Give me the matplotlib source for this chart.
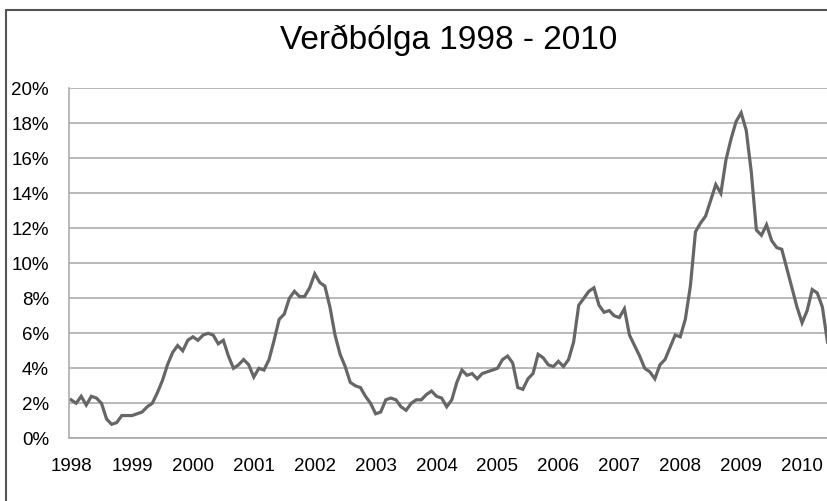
import matplotlib
matplotlib.use('Agg')
import matplotlib.pyplot as plt
from matplotlib.patches import Rectangle
from matplotlib.ticker import FuncFormatter

plt.rcParams['font.family'] = ['Liberation Sans', 'DejaVu Sans']

# tólf mánaða verðbólga (%), janúar - desember
y1998 = [2.2, 2.0, 2.4, 1.9, 2.4, 2.3, 2.0, 1.1, 0.8, 0.9, 1.3, 1.3]
y1999 = [1.3, 1.4, 1.5, 1.8, 2.0, 2.6, 3.3, 4.2, 4.9, 5.3, 5.0, 5.6]
y2000 = [5.8, 5.6, 5.9, 6.0, 5.9, 5.4, 5.6, 4.7, 4.0, 4.2, 4.5, 4.2]
y2001 = [3.5, 4.0, 3.9, 4.5, 5.6, 6.8, 7.1, 8.0, 8.4, 8.1, 8.1, 8.6]
y2002 = [9.4, 8.9, 8.7, 7.5, 5.9, 4.8, 4.1, 3.2, 3.0, 2.9, 2.4, 2.0]
y2003 = [1.4, 1.5, 2.2, 2.3, 2.2, 1.8, 1.6, 2.0, 2.2, 2.2, 2.5, 2.7]
y2004 = [2.4, 2.3, 1.8, 2.2, 3.2, 3.9, 3.6, 3.7, 3.4, 3.7, 3.8, 3.9]
y2005 = [4.0, 4.5, 4.7, 4.3, 2.9, 2.8, 3.4, 3.7, 4.8, 4.6, 4.2, 4.1]
y2006 = [4.4, 4.1, 4.5, 5.5, 7.6, 8.0, 8.4, 8.6, 7.6, 7.2, 7.3, 7.0]
y2007 = [6.9, 7.4, 5.9, 5.3, 4.7, 4.0, 3.8, 3.4, 4.2, 4.5, 5.2, 5.9]
y2008 = [5.8, 6.8, 8.7, 11.8, 12.3, 12.7, 13.6, 14.5, 14.0, 15.9, 17.1, 18.1]
y2009 = [18.6, 17.6, 15.2, 11.9, 11.6, 12.2, 11.3, 10.9, 10.8, 9.7, 8.6, 7.5]
y2010 = [6.6, 7.3, 8.5, 8.3, 7.5, 5.5]

years = ['1998', '1999', '2000', '2001', '2002', '2003', '2004',
         '2005', '2006', '2007', '2008', '2009', '2010']

verdbolga = (y1998 + y1999 + y2000 + y2001 + y2002 + y2003 + y2004
             + y2005 + y2006 + y2007 + y2008 + y2009 + y2010)
verdbolga = [v / 100 for v in verdbolga]
months = list(range(len(verdbolga)))

fig = plt.figure(figsize=(8.28, 5.01), dpi=100)

# ramminn utan um allt graf
fig.patches.append(Rectangle((6.5 / 828, -0.2), 1.5, 1.2 - 10 / 501,
                             transform=fig.transFigure, fill=False,
                             edgecolor='#555555', linewidth=1.5))

ax = fig.add_axes([68.5 / 828, 1 - 438.3 / 501, 761.5 / 828, 350 / 501])
ax.plot(months, verdbolga, color='#666666', linewidth=2.3, solid_joinstyle='miter')

ax.set_xlim(-0.5, 149.5)
ax.set_ylim(0, 0.2)
ax.set_yticks([i * 0.02 for i in range(11)])
ax.yaxis.set_major_formatter(FuncFormatter(lambda v, p: '{:.0f}%'.format(v * 100)))
ax.set_xticks(range(0, len(verdbolga), 12))
ax.set_xticklabels(years)
ax.tick_params(axis='both', length=0, labelsize=13.5, labelcolor='black')
ax.tick_params(axis='y', pad=14)
ax.tick_params(axis='x', pad=14)

ax.grid(axis='y', color='#a6a6a6', linewidth=1.1)
ax.set_axisbelow(True)
for side in ['top', 'right']:
    ax.spines[side].set_visible(False)
for side in ['left', 'bottom']:
    ax.spines[side].set_color('#a6a6a6')
    ax.spines[side].set_linewidth(1.1)

fig.text(449 / 828, 1 - 40 / 501, 'Verðbólga 1998 - 2010', ha='center', va='center',
         fontsize=24, color='black')

fig.savefig('out.png', dpi=100)
